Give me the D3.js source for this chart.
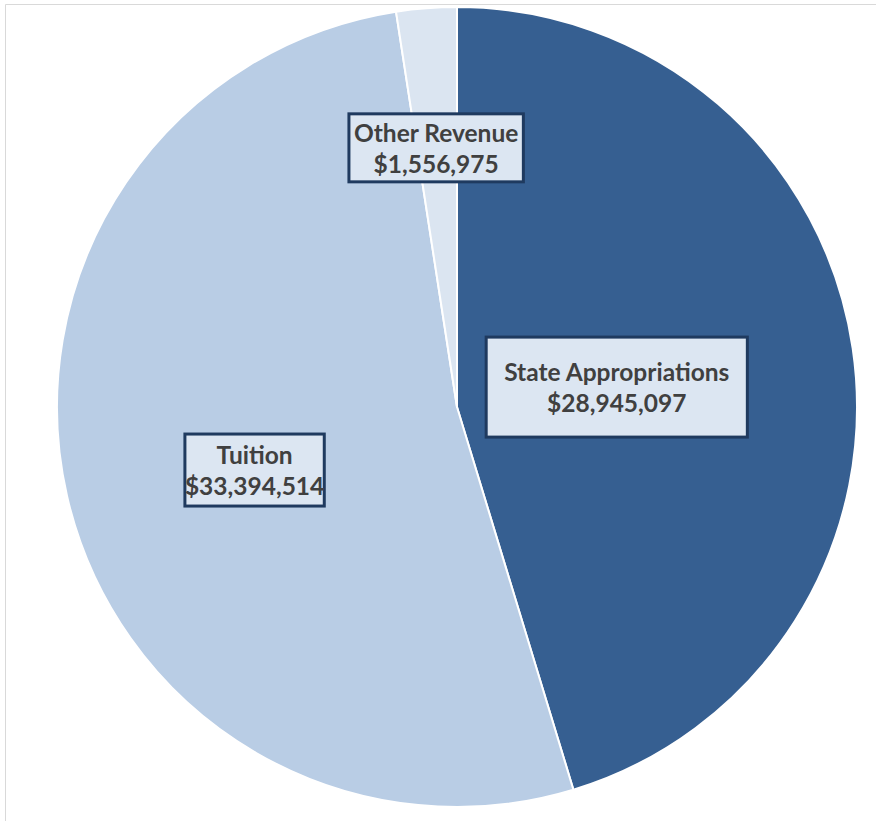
<!DOCTYPE html>
<html>
<head>
<meta charset="utf-8">
<script src="https://cdn.jsdelivr.net/npm/d3@7"></script>
<style>
  html, body { margin: 0; padding: 0; background: #ffffff; }
  svg { display: block; }
</style>
</head>
<body>
<script>
// ---- data ----
const categories = ["State Appropriations", "Tuition", "Other Revenue"];
const values = [28945097, 33394514, 1556975];
const valueLabels = ["$28,945,097", "$33,394,514", "$1,556,975"];
const colors = ["#365F91", "#B9CDE5", "#DBE5F1"];

// ---- layout ----
const W = 876, H = 821;
const cx = 457, cy = 407, R = 400;
// label anchor: polar (degrees clockwise from top, radius) relative to pie center
const labelPolar = [[82.9, 161], [252.7, 212], [355.4, 260]];
const labelPadX = [18, 0, 5];
const labelBoxH = [100, 72, 68];

const svg = d3.select("body").append("svg").attr("width", W).attr("height", H);

// outer frame
svg.append("path")
  .attr("d", `M5.5,${H} L5.5,4.5 L${W},4.5`)
  .attr("fill", "none").attr("stroke", "#d9d9d9").attr("stroke-width", 1);

const pie = d3.pie().sort(null).value(d => d)(values);
const arc = d3.arc().innerRadius(0).outerRadius(R);

const g = svg.append("g").attr("transform", `translate(${cx},${cy})`);
g.selectAll("path.slice").data(pie).join("path")
  .attr("class", "slice")
  .attr("d", arc)
  .attr("fill", (d, i) => colors[i])
  .attr("stroke", "#ffffff")
  .attr("stroke-width", 2)
  .attr("stroke-linejoin", "round");

// labels
const fontFamily = "Lato, 'Open Sans', sans-serif";
const lab = svg.append("g");
pie.forEach((d, i) => {
  const [ang, r] = labelPolar[i];
  const a = ang * Math.PI / 180;
  const x = cx + r * Math.sin(a), y = cy - r * Math.cos(a);
  const grp = lab.append("g");
  const rect = grp.append("rect");
  const t = grp.append("text")
    .attr("text-anchor", "middle")
    .attr("font-family", fontFamily)
    .attr("font-weight", "bold")
    .attr("font-size", 24.5)
    .attr("fill", "#404040");
  t.append("tspan").attr("x", x).attr("y", y - 6).text(categories[i]);
  t.append("tspan").attr("x", x).attr("y", y + 25).text(valueLabels[i]);
  const bb = t.node().getBBox();
  const px = labelPadX[i], h = labelBoxH[i];
  rect.attr("x", bb.x - px).attr("y", y - h / 2)
    .attr("width", bb.width + 2 * px).attr("height", h)
    .attr("fill", "#DCE6F2")
    .attr("stroke", "#1F3A5F")
    .attr("stroke-width", 3);
});
</script>
</body>
</html>
